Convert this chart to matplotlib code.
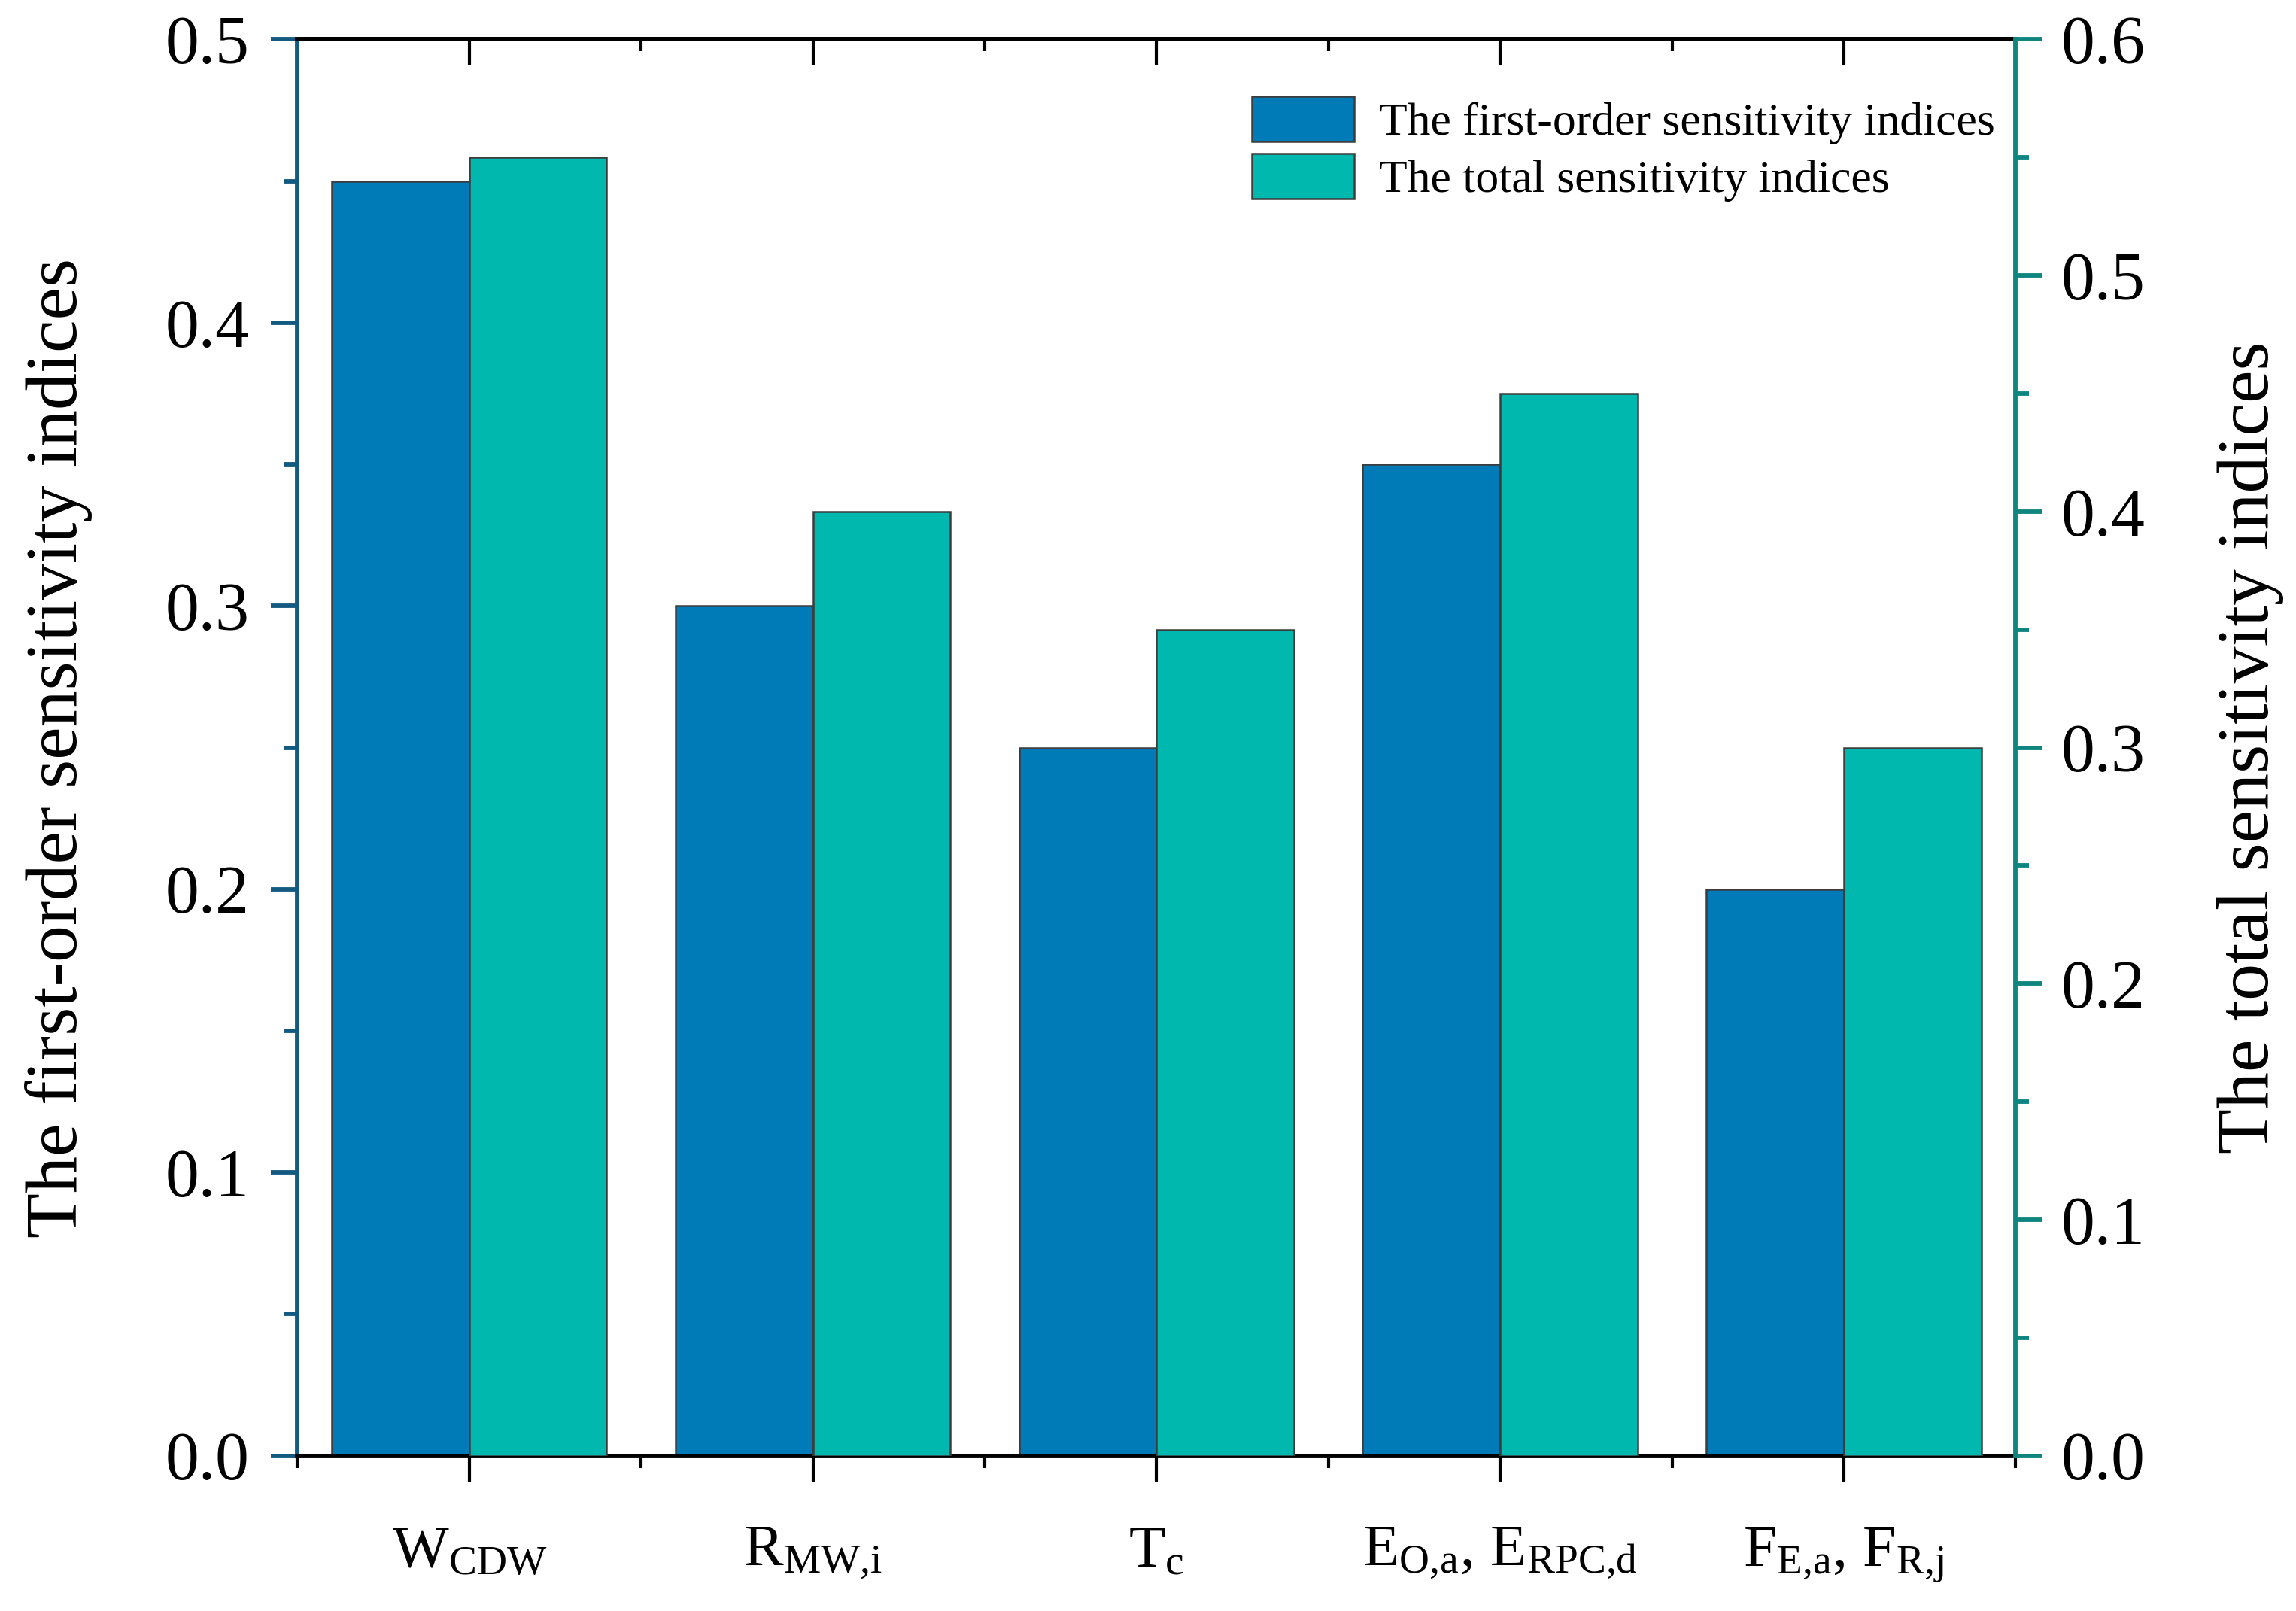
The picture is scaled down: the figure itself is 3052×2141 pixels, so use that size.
import numpy as np
import matplotlib
matplotlib.use('Agg')
from matplotlib import pyplot as plt
from matplotlib.ticker import FixedLocator, MultipleLocator, FormatStrFormatter
from matplotlib.patches import Patch

plt.rcParams['font.family'] = ['Liberation Serif', 'DejaVu Serif']
plt.rcParams['mathtext.fontset'] = 'custom'
plt.rcParams['mathtext.rm'] = 'Liberation Serif'
plt.rcParams['mathtext.it'] = 'Liberation Serif'

"""
Daten
"""
categories = [r'$\mathrm{W}_{\mathrm{CDW}}$',
              r'$\mathrm{R}_{\mathrm{MW{,}i}}$',
              r'$\mathrm{T}_{\mathrm{c}}$',
              r'$\mathrm{E}_{\mathrm{O{,}a}}{,}\ \mathrm{E}_{\mathrm{RPC{,}d}}$',
              r'$\mathrm{F}_{\mathrm{E{,}a}}{,}\ \mathrm{F}_{\mathrm{R{,}j}}$']
first_order = [0.45, 0.30, 0.25, 0.35, 0.20]
total_order = [0.55, 0.40, 0.35, 0.45, 0.30]
label_first = 'The first-order sensitivity indices'
label_total = 'The total sensitivity indices'

c_blue = '#007bb8'
c_teal = '#00b8ad'
c_left = '#135a80'
c_right = '#0f8580'
c_edge = '#3c3c3c'

x = np.arange(len(categories))
w = 0.4

fig = plt.figure(figsize=(3053 / 300, 2141 / 300), dpi=300)
ax = fig.add_axes([0.1295, 0.0964, 0.8776 - 0.1295, 0.9755 - 0.0964])
ax2 = ax.twinx()

ax.bar(x - w / 2, first_order, w, color=c_blue, edgecolor=c_edge, linewidth=0.6, zorder=2)
ax2.bar(x + w / 2, total_order, w, color=c_teal, edgecolor=c_edge, linewidth=0.6, zorder=2)

ax.set_xlim(-0.5, 4.5)
ax.set_ylim(0, 0.5)
ax2.set_ylim(0, 0.6)

# linke Achse
ax.yaxis.set_major_locator(MultipleLocator(0.1))
ax.yaxis.set_minor_locator(MultipleLocator(0.05))
ax.yaxis.set_major_formatter(FormatStrFormatter('%.1f'))
ax.tick_params(axis='y', which='major', direction='out', length=8.4, width=1.4,
               color=c_left, labelsize=21.5, pad=7)
ax.tick_params(axis='y', which='minor', direction='out', length=4.2, width=1.4, color=c_left)
ax.spines['left'].set_color(c_left)
ax.spines['left'].set_linewidth(1.4)
ax.spines['right'].set_visible(False)
ax.set_ylabel(label_first, fontsize=23.5, labelpad=23)

# rechte Achse
ax2.yaxis.set_major_locator(MultipleLocator(0.1))
ax2.yaxis.set_minor_locator(MultipleLocator(0.05))
ax2.yaxis.set_major_formatter(FormatStrFormatter('%.1f'))
ax2.tick_params(axis='y', which='major', direction='out', length=8.4, width=1.4,
                color=c_right, labelsize=21.5, pad=6)
ax2.tick_params(axis='y', which='minor', direction='out', length=4.2, width=1.4, color=c_right)
for s in ['left', 'top', 'bottom']:
    ax2.spines[s].set_visible(False)
ax2.spines['right'].set_color(c_right)
ax2.spines['right'].set_linewidth(1.4)
ax2.set_ylabel(label_total, fontsize=23.5, labelpad=23)

# x-Achse
ax.set_xticks(x)
ax.set_xticklabels(categories)
ax.xaxis.set_minor_locator(FixedLocator(np.arange(-0.5, 5.0, 1.0)))
ax.tick_params(axis='x', which='major', direction='out', length=8.4, width=1.0,
               color='black', labelsize=19, pad=14)
ax.tick_params(axis='x', which='minor', direction='out', length=3.8, width=1.0, color='black')
ax.spines['bottom'].set_linewidth(1.4)
ax.spines['top'].set_linewidth(1.4)

top = ax.secondary_xaxis('top')
top.set_xticks(x)
top.xaxis.set_minor_locator(FixedLocator(np.arange(-0.5, 5.0, 1.0)))
top.tick_params(axis='x', which='major', direction='in', length=8.4, width=1.0, labeltop=False)
top.tick_params(axis='x', which='minor', direction='in', length=3.8, width=1.0)
top.spines['top'].set_linewidth(1.4)

handles = [Patch(facecolor=c_blue, edgecolor=c_edge, linewidth=0.6, label=label_first),
           Patch(facecolor=c_teal, edgecolor=c_edge, linewidth=0.6, label=label_total)]
fig.legend(handles=handles, loc='upper left', bbox_to_anchor=(0.545, 0.940),
           frameon=False, fontsize=14.8, handlelength=2.2, handleheight=1.1,
           handletextpad=0.55, labelspacing=0.2, borderpad=0, borderaxespad=0)

fig.savefig('out.png', dpi=300)
